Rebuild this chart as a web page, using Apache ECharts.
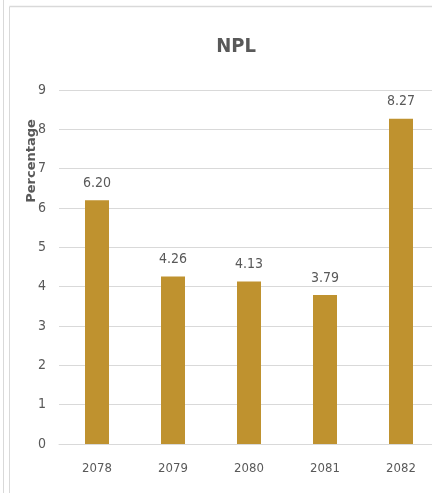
<!DOCTYPE html>
<html>
<head>
<meta charset="utf-8">
<script src="https://cdn.jsdelivr.net/npm/echarts@6/dist/echarts.min.js"></script>
<style>
  html, body { margin: 0; padding: 0; background: #ffffff; }
  #chart { width: 432px; height: 493px; }
</style>
</head>
<body>
<div id="chart"></div>
<script>
// NPL ratio by fiscal year
const years = ['2078', '2079', '2080', '2081', '2082'];
const nplValues = [6.20, 4.26, 4.13, 3.79, 8.27];
const yTicks = [0, 1, 2, 3, 4, 5, 6, 7, 8, 9];

const FONT = '"DejaVu Sans Condensed", "Liberation Sans Narrow", "Liberation Sans", Arial, sans-serif';
const GRAY = '#595959';

const chart = echarts.init(document.getElementById('chart'), null, { renderer: 'canvas' });

chart.setOption({
  backgroundColor: '#ffffff',
  animation: false,
  title: {
    text: 'NPL',
    left: 231,
    top: 32,
    textAlign: 'center',
    textStyle: { fontFamily: FONT, fontSize: 20, fontWeight: 'bold', color: GRAY }
  },
  // the plot area runs a little past the right edge of the canvas
  grid: { left: 59, width: 380, top: 90, bottom: 49, containLabel: false, outerBoundsMode: 'none' },
  xAxis: {
    type: 'category',
    data: years,
    axisLine: { show: true, lineStyle: { color: '#d9d9d9', width: 1 } },
    axisTick: { show: false },
    axisLabel: { fontFamily: FONT, fontSize: 13, color: GRAY, margin: 18 }
  },
  yAxis: {
    type: 'value',
    min: yTicks[0],
    max: yTicks[yTicks.length - 1],
    interval: 1,
    axisLine: { show: false },
    axisTick: { show: false },
    splitLine: { lineStyle: { color: '#d9d9d9', width: 1 } },
    axisLabel: { fontFamily: FONT, fontSize: 14, color: GRAY, margin: 13 }
  },
  series: [{
    type: 'bar',
    data: nplValues,
    barWidth: 24,
    itemStyle: { color: '#BF922F' },
    label: {
      show: true,
      position: 'top',
      distance: 10,
      formatter: p => p.value.toFixed(2),
      fontFamily: FONT,
      fontSize: 14,
      color: GRAY
    }
  }],
  graphic: [
    { type: 'line', shape: { x1: 3.5, y1: 0, x2: 3.5, y2: 493 }, style: { stroke: '#d9d9d9', lineWidth: 1 } },
    { type: 'line', shape: { x1: 9.5, y1: 6.5, x2: 9.5, y2: 493 }, style: { stroke: '#d9d9d9', lineWidth: 1 } },
    { type: 'line', shape: { x1: 9.5, y1: 6.5, x2: 432, y2: 6.5 }, style: { stroke: '#d9d9d9', lineWidth: 1.5 } },
    {
      type: 'text',
      x: 32,
      y: 161,
      rotation: Math.PI / 2,
      style: {
        text: 'Percentage',
        fontFamily: '"DejaVu Sans", Arial, sans-serif',
        fontSize: 13,
        fontWeight: 'bold',
        fill: GRAY,
        align: 'center',
        verticalAlign: 'middle'
      }
    }
  ]
});
</script>
</body>
</html>
